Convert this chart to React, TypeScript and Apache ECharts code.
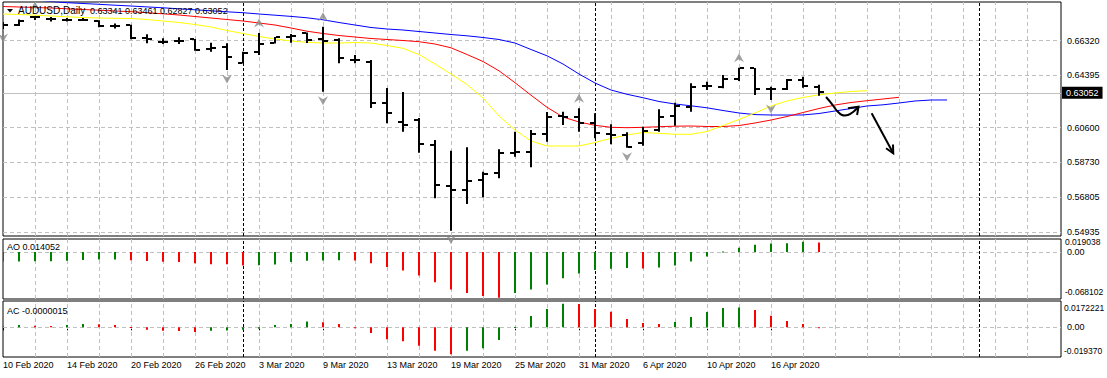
import React, { useEffect, useRef } from "react";
import * as echarts from "echarts";

const FONT = "'Liberation Sans', Arial, sans-serif";

// ---- data (bar index 0 = 10 Feb 2020, daily) ----
const dateTickIdx = [0, 4, 8, 12, 16, 20, 24, 28, 32, 36, 40, 44, 48];
const dateTickLabels = ["10 Feb 2020", "14 Feb 2020", "20 Feb 2020", "26 Feb 2020", "3 Mar 2020", "9 Mar 2020", "13 Mar 2020", "19 Mar 2020", "25 Mar 2020", "31 Mar 2020", "6 Apr 2020", "10 Apr 2020", "16 Apr 2020"];

const open = [0.66837, 0.66894, 0.67353, 0.67239, 0.67181, 0.67181, 0.67141, 0.66837, 0.66894, 0.66131, 0.65935, 0.65976, 0.66073, 0.65545, 0.65648, 0.64695, 0.65361, 0.65843, 0.66222, 0.66418, 0.66062, 0.66033, 0.64885, 0.64787, 0.62416, 0.61342, 0.61440, 0.60004, 0.57650, 0.57421, 0.57995, 0.58414, 0.59545, 0.59620, 0.60636, 0.61669, 0.61629, 0.61250, 0.60636, 0.60578, 0.60102, 0.60866, 0.61687, 0.62203, 0.63392, 0.63352, 0.63776, 0.64408, 0.63202, 0.63202, 0.63736, 0.63341];
const high = [0.67066, 0.67210, 0.67411, 0.67353, 0.67296, 0.67296, 0.67164, 0.66980, 0.66911, 0.66360, 0.66131, 0.66188, 0.66090, 0.65878, 0.65843, 0.65361, 0.66435, 0.66205, 0.66377, 0.66464, 0.66797, 0.66131, 0.65172, 0.64885, 0.63277, 0.63047, 0.61555, 0.60291, 0.59677, 0.59872, 0.58471, 0.59757, 0.60768, 0.60866, 0.61899, 0.61916, 0.62111, 0.61824, 0.61193, 0.60733, 0.61055, 0.62054, 0.62433, 0.63547, 0.63639, 0.64023, 0.64443, 0.64425, 0.63352, 0.63794, 0.63926, 0.63461];
const low = [0.66664, 0.66837, 0.67181, 0.67095, 0.67095, 0.67124, 0.66762, 0.66693, 0.66073, 0.65843, 0.65803, 0.65803, 0.65419, 0.65361, 0.64310, 0.64684, 0.65172, 0.65832, 0.65878, 0.65861, 0.63065, 0.64695, 0.64695, 0.62129, 0.61250, 0.60768, 0.59562, 0.56944, 0.55084, 0.56617, 0.57002, 0.58092, 0.59333, 0.58724, 0.60194, 0.61153, 0.60768, 0.60389, 0.60044, 0.59849, 0.59964, 0.60768, 0.61112, 0.61916, 0.63162, 0.63260, 0.63679, 0.62875, 0.62588, 0.63162, 0.63294, 0.62827];
const close = [0.66894, 0.67124, 0.67382, 0.67225, 0.67175, 0.67164, 0.66837, 0.66830, 0.66131, 0.66119, 0.65930, 0.65993, 0.65459, 0.65602, 0.65074, 0.65304, 0.65803, 0.66188, 0.66245, 0.66033, 0.66004, 0.64982, 0.64879, 0.62416, 0.61859, 0.61153, 0.60044, 0.57708, 0.57421, 0.57955, 0.58322, 0.59528, 0.59602, 0.60619, 0.61595, 0.61612, 0.61285, 0.60711, 0.60607, 0.59907, 0.60808, 0.61629, 0.62261, 0.63352, 0.63409, 0.63776, 0.64408, 0.63202, 0.63220, 0.63736, 0.63409, 0.63052];

// Alligator lines (jaw shifted 8, teeth 5, lips 3 bars forward)
const jaw = [0.68444, 0.68387, 0.68330, 0.68243, 0.68175, 0.68129, 0.68083, 0.68031, 0.67985, 0.67933, 0.67882, 0.67824, 0.67767, 0.67709, 0.67652, 0.67600, 0.67526, 0.67457, 0.67388, 0.67308, 0.67193, 0.67038, 0.66894, 0.66751, 0.66664, 0.66607, 0.66521, 0.66435, 0.66349, 0.66274, 0.66176, 0.66062, 0.65861, 0.65487, 0.65126, 0.64655, 0.64081, 0.63564, 0.63162, 0.62915, 0.62720, 0.62502, 0.62358, 0.62255, 0.62140, 0.61985, 0.61842, 0.61750, 0.61727, 0.61725, 0.61730, 0.61813, 0.61956, 0.62100, 0.62244, 0.62312, 0.62416, 0.62531, 0.62588, 0.62590];
const teeth = [0.67956, 0.67928, 0.67899, 0.67870, 0.67824, 0.67784, 0.67744, 0.67698, 0.67658, 0.67600, 0.67537, 0.67468, 0.67382, 0.67296, 0.67210, 0.67124, 0.67009, 0.66894, 0.66722, 0.66538, 0.66406, 0.66291, 0.66205, 0.66119, 0.66062, 0.66004, 0.65935, 0.65803, 0.65585, 0.65200, 0.64798, 0.64265, 0.63581, 0.62864, 0.62169, 0.61612, 0.61325, 0.61135, 0.61021, 0.60998, 0.61020, 0.61055, 0.61084, 0.61095, 0.61067, 0.61065, 0.61124, 0.61267, 0.61440, 0.61641, 0.61870, 0.62100, 0.62301, 0.62444, 0.62548, 0.62645, 0.62743];
const lips = [0.67526, 0.67497, 0.67457, 0.67411, 0.67365, 0.67325, 0.67296, 0.67279, 0.67267, 0.67210, 0.67124, 0.67038, 0.66923, 0.66779, 0.66578, 0.66406, 0.66234, 0.66090, 0.65976, 0.65901, 0.65861, 0.65860, 0.65889, 0.65861, 0.65717, 0.65556, 0.65200, 0.64655, 0.64081, 0.63478, 0.62703, 0.61669, 0.60866, 0.60234, 0.59947, 0.59945, 0.59950, 0.60148, 0.60389, 0.60578, 0.60722, 0.60676, 0.60619, 0.60619, 0.60779, 0.61124, 0.61468, 0.61842, 0.62244, 0.62531, 0.62732, 0.62887, 0.62990, 0.63076, 0.63122];

const ao = [-0.0136, -0.0135, -0.0134, -0.0133, -0.0125, -0.0115, -0.0108, -0.0106, -0.0118, -0.0130, -0.0139, -0.0143, -0.0160, -0.0175, -0.0178, -0.0194, -0.0192, -0.0179, -0.0145, -0.0124, -0.0121, -0.0119, -0.0123, -0.0160, -0.0218, -0.0266, -0.0339, -0.0436, -0.0542, -0.0595, -0.0639, -0.0662, -0.0595, -0.0542, -0.0470, -0.0378, -0.0310, -0.0261, -0.0242, -0.0232, -0.0237, -0.0223, -0.0194, -0.0136, -0.0063, 0.0010, 0.0065, 0.0108, 0.0126, 0.0130, 0.0150, 0.014052];
const ac = [0.0009, 0.0015, 0.0011, 0.0009, 0.0015, 0.0022, 0.0020, 0.0015, 0.0002, -0.0015, -0.0022, -0.0023, -0.0031, -0.0022, -0.0021, -0.0015, -0.0009, 0.0015, 0.0022, 0.0039, 0.0033, 0.0022, -0.0002, -0.0037, -0.0077, -0.0090, -0.0120, -0.0153, -0.0175, -0.0153, -0.0136, -0.0083, 0.0002, 0.0074, 0.0120, 0.0155, 0.0152, 0.0120, 0.0102, 0.0055, 0.0028, 0.0022, 0.0035, 0.0068, 0.0100, 0.0126, 0.0129, 0.0113, 0.0076, 0.0041, 0.0022, -0.0000015];

const upFractalIdx = [2, 16, 20, 36, 46];
const downFractalIdx = [0, 14, 20, 28, 39, 48];

const priceLevels = [0.66320, 0.64395, 0.62525, 0.60600, 0.58730, 0.56805, 0.54935];
const bidPrice = 0.63052;
const separatorIdx = [15, 37, 61];

const mainRange = [0.54780, 0.68215];
const aoRange = [-0.068102, 0.019038];
const acRange = [-0.019370, 0.0172221];

// hand-drawn arrows (bar index, price)
const curveArrow = [[51.44, 0.62760], [51.81, 0.62358], [52.13, 0.61956], [52.44, 0.61727], [52.81, 0.61727], [53.13, 0.61899], [53.47, 0.62203]];
const curveHead = [[52.81, 0.62111], [53.47, 0.62203], [53.38, 0.61727]];
const straightArrow = [[54.29, 0.61824], [55.64, 0.59528]];
const straightHead = [[55.625, 0.60039], [55.64, 0.59528], [55.19, 0.59821]];

// ---- layout ----
const GL = 3;
const GW = 1058;
const XMAX = GW / 16;
const GREEN = "#008000";
const RED = "#ff0000";
const gridDash = { color: "#c0c0c0", type: [4, 3], width: 1 };
const sepStyle = { color: "#000000", type: [3, 2], width: 1 };
const vGridIdx = Array.from({ length: 32 }, (_, k) => 2 + 2 * k);

function oscColors(vals: number[]) {
  return vals.map((v, i) => (i === 0 || v >= vals[i - 1] ? GREEN : RED));
}

function verticalLines() {
  return [
    ...vGridIdx.map((i) => ({ xAxis: i, lineStyle: gridDash, label: { show: false } })),
    ...separatorIdx.map((i) => ({ xAxis: i, lineStyle: sepStyle, label: { show: false } })),
  ];
}

const labelBase = { position: "end", distance: 6, color: "#000", fontSize: 9, fontFamily: FONT };

function oscRender(colors: string[]) {
  return (params: any, api: any) => {
    const i = api.value(0);
    const v = api.value(1);
    const p0 = api.coord([i, 0]);
    const p1 = api.coord([i, v]);
    const x = Math.round(p0[0]);
    const y = Math.min(p0[1], p1[1]);
    const h = Math.max(1, Math.abs(p1[1] - p0[1]));
    return {
      type: "rect",
      shape: { x: x - 1, y, width: 2, height: h },
      style: { fill: colors[params.dataIndex] },
    };
  };
}

export default function App() {
  const ref = useRef<HTMLDivElement>(null);
  useEffect(() => {
    if (!ref.current) return;
    const chart = echarts.init(ref.current, undefined, { renderer: "svg" });
    const aoColors = oscColors(ao);
    const acColors = oscColors(ac);
    const ohlc = open.map((o, i) => [i, o, high[i], low[i], close[i]]);

    const option: any = {
      animation: false,
      backgroundColor: "#ffffff",
      grid: [
        { left: GL, top: 2, width: GW, height: 234, show: true, borderColor: "#000", borderWidth: 1 },
        { left: GL, top: 239, width: GW, height: 60, show: true, borderColor: "#000", borderWidth: 1 },
        { left: GL, top: 301, width: GW, height: 56, show: true, borderColor: "#000", borderWidth: 1 },
      ],
      xAxis: [
        { type: "value", gridIndex: 0, min: 0, max: XMAX, show: false },
        { type: "value", gridIndex: 1, min: 0, max: XMAX, show: false },
        {
          type: "value", gridIndex: 2, min: 0, max: XMAX,
          axisLine: { show: false },
          splitLine: { show: false },
          axisTick: { show: true, customValues: dateTickIdx, length: 3, lineStyle: { color: "#000" } },
          axisLabel: {
            show: true, customValues: dateTickIdx, showMinLabel: true, hideOverlap: false,
            formatter: (v: number) => { const k = dateTickIdx.indexOf(Math.round(v)); return k >= 0 ? dateTickLabels[k] : ""; },
            align: "left", margin: 3, fontSize: 9, color: "#000", fontFamily: FONT,
          },
        },
      ],
      yAxis: [
        { type: "value", gridIndex: 0, min: mainRange[0], max: mainRange[1], show: false },
        { type: "value", gridIndex: 1, min: aoRange[0], max: aoRange[1], show: false },
        { type: "value", gridIndex: 2, min: acRange[0], max: acRange[1], show: false },
      ],
      series: [
        {
          type: "line", xAxisIndex: 0, yAxisIndex: 0, data: jaw.map((v, i) => [i, v]),
          showSymbol: false, symbol: "none", clip: true, z: 2,
          lineStyle: { color: "#0000ff", width: 1 },
          markLine: {
            silent: true, symbol: ["none", "none"], z: 1, label: labelBase,
            data: [
              ...priceLevels.map((v) => ({ yAxis: v, lineStyle: gridDash, label: { ...labelBase, formatter: v.toFixed(5) } })),
              ...verticalLines(),
              {
                yAxis: bidPrice, lineStyle: { color: "#c0c0c0", type: "solid", width: 1 },
                label: { ...labelBase, distance: 1, formatter: bidPrice.toFixed(5), color: "#fff", backgroundColor: "#000", padding: [2, 4, 1, 4] },
              },
            ],
          },
        },
        { type: "line", xAxisIndex: 0, yAxisIndex: 0, data: teeth.map((v, i) => [i, v]), showSymbol: false, symbol: "none", clip: true, z: 2, lineStyle: { color: "#ff0000", width: 1 } },
        { type: "line", xAxisIndex: 0, yAxisIndex: 0, data: lips.map((v, i) => [i, v]), showSymbol: false, symbol: "none", clip: true, z: 2, lineStyle: { color: "#ffff00", width: 1 } },
        {
          type: "custom", xAxisIndex: 0, yAxisIndex: 0, data: ohlc, clip: true, z: 3,
          encode: { x: 0, y: [1, 2, 3, 4] },
          renderItem: (params: any, api: any) => {
            const i = api.value(0);
            const pO = api.coord([i, api.value(1)]);
            const pH = api.coord([i, api.value(2)]);
            const pL = api.coord([i, api.value(3)]);
            const pC = api.coord([i, api.value(4)]);
            const x = Math.round(pO[0]);
            return {
              type: "group",
              children: [
                { type: "rect", shape: { x: x - 1, y: pH[1], width: 2, height: Math.max(1, pL[1] - pH[1]) }, style: { fill: "#000" } },
                { type: "rect", shape: { x: x - 5, y: Math.round(pO[1]) - 1, width: 4, height: 2 }, style: { fill: "#000" } },
                { type: "rect", shape: { x: x + 1, y: Math.round(pC[1]) - 1, width: 4, height: 2 }, style: { fill: "#000" } },
              ],
            };
          },
        },
        {
          type: "scatter", xAxisIndex: 0, yAxisIndex: 0, silent: true, z: 4,
          data: upFractalIdx.map((i) => [i, high[i]]),
          symbol: "path://M5,0L10,9L5,6L0,9Z", symbolSize: [10, 9], symbolOffset: [0, -10],
          itemStyle: { color: "#8a8a8a" },
        },
        {
          type: "scatter", xAxisIndex: 0, yAxisIndex: 0, silent: true, z: 4,
          data: downFractalIdx.map((i) => [i, low[i]]),
          symbol: "path://M0,0L5,3L10,0L5,9Z", symbolSize: [10, 9], symbolOffset: [0, 9],
          itemStyle: { color: "#8a8a8a" },
        },
        {
          type: "custom", xAxisIndex: 1, yAxisIndex: 1, data: ao.map((v, i) => [i, v]), clip: true, z: 3,
          encode: { x: 0, y: 1 },
          renderItem: oscRender(aoColors),
          markLine: {
            silent: true, symbol: ["none", "none"], z: 1, label: labelBase,
            data: [
              { yAxis: 0, lineStyle: gridDash, label: { ...labelBase, formatter: "0.00" } },
              ...verticalLines(),
            ],
          },
        },
        {
          type: "custom", xAxisIndex: 2, yAxisIndex: 2, data: ac.map((v, i) => [i, v]), clip: true, z: 3,
          encode: { x: 0, y: 1 },
          renderItem: oscRender(acColors),
          markLine: {
            silent: true, symbol: ["none", "none"], z: 1, label: labelBase,
            data: [
              { yAxis: 0, lineStyle: gridDash, label: { ...labelBase, formatter: "0.00" } },
              ...verticalLines(),
            ],
          },
        },
      ],
    };
    chart.setOption(option);

    const toPx = (p: number[]) => chart.convertToPixel({ gridIndex: 0 }, p) as number[];
    const txt = (x: number, y: number, text: string, size = 9) => ({
      type: "text", x, y, silent: true, z: 10,
      style: { text, fill: "#000", font: `${size}px ${FONT}`, align: "left", verticalAlign: "middle" },
    });
    const arrowStyle = { stroke: "#000", lineWidth: 2, fill: null };
    chart.setOption({
      graphic: [
        { type: "polygon", silent: true, z: 10, shape: { points: [[7, 9], [13, 9], [10, 12.5]] }, style: { fill: "#000" } },
        txt(18, 10.5, "AUDUSD,Daily", 10),
        txt(90, 10.5, `${open[51].toFixed(5)} ${high[51].toFixed(5)} ${low[51].toFixed(5)} ${close[51].toFixed(5)}`),
        txt(7, 247.3, `AO ${ao[51].toFixed(6)}`),
        txt(7, 310.5, "AC -0.0000015"),
        txt(1065, 242.3, aoRange[1].toFixed(6), 8.5),
        txt(1065, 292, aoRange[0].toFixed(6), 8.5),
        txt(1064, 308, acRange[1].toFixed(7), 8.5),
        txt(1064, 351.3, acRange[0].toFixed(6), 8.5),
        { type: "polyline", silent: true, z: 9, shape: { points: curveArrow.map(toPx), smooth: 0.35 }, style: arrowStyle },
        { type: "polyline", silent: true, z: 9, shape: { points: curveHead.map(toPx) }, style: arrowStyle },
        { type: "polyline", silent: true, z: 9, shape: { points: straightArrow.map(toPx) }, style: arrowStyle },
        { type: "polyline", silent: true, z: 9, shape: { points: straightHead.map(toPx) }, style: arrowStyle },
      ],
    });
    return () => chart.dispose();
  }, []);

  return (
    <div
      ref={ref}
      style={{ position: "absolute", left: 0, top: 0, width: 1107, height: 378, background: "#fff" }}
    />
  );
}
